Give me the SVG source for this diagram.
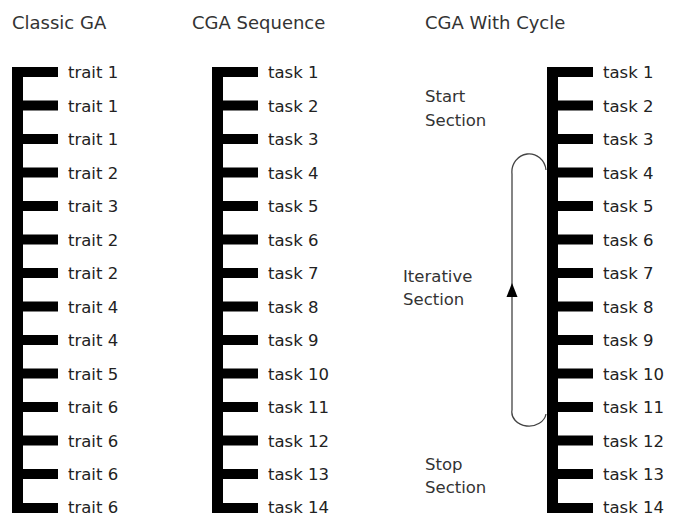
<svg xmlns="http://www.w3.org/2000/svg" width="673" height="517" viewBox="0 0 673 517">
<defs>
<style>
.bar{fill:#000}
.lbl{font-family:"DejaVu Sans",sans-serif;font-size:16.5px;fill:#222}
.ttl{font-family:"DejaVu Sans",sans-serif;font-size:18px;fill:#333}
.sec{font-family:"DejaVu Sans",sans-serif;font-size:16.5px;fill:#333}
.cyc{fill:none;stroke:#444;stroke-width:1.3}
</style>
<g id="comb">
<rect class="bar" x="0" y="0" width="11" height="446"/>
<rect class="bar" x="0" y="0" width="46" height="10"/>
<rect class="bar" x="0" y="33.5" width="46" height="10"/>
<rect class="bar" x="0" y="67" width="46" height="10"/>
<rect class="bar" x="0" y="100.5" width="46" height="10"/>
<rect class="bar" x="0" y="134" width="46" height="10"/>
<rect class="bar" x="0" y="167.5" width="46" height="10"/>
<rect class="bar" x="0" y="201" width="46" height="10"/>
<rect class="bar" x="0" y="234.5" width="46" height="10"/>
<rect class="bar" x="0" y="268" width="46" height="10"/>
<rect class="bar" x="0" y="301.5" width="46" height="10"/>
<rect class="bar" x="0" y="335" width="46" height="10"/>
<rect class="bar" x="0" y="368.5" width="46" height="10"/>
<rect class="bar" x="0" y="402" width="46" height="10"/>
<rect class="bar" x="0" y="436" width="46" height="10"/>
</g>
</defs>
<rect width="673" height="517" fill="#fff"/>
<g id="titles">
<text class="ttl" x="12" y="29">Classic GA</text>
<text class="ttl" x="192" y="29">CGA Sequence</text>
<text class="ttl" x="425" y="29">CGA With Cycle</text>
</g>
<g id="classic-ga">
<use href="#comb" x="12" y="67"/>
<g class="lbl">
<text x="68" y="78">trait 1</text>
<text x="68" y="111.5">trait 1</text>
<text x="68" y="145">trait 1</text>
<text x="68" y="178.5">trait 2</text>
<text x="68" y="212">trait 3</text>
<text x="68" y="245.5">trait 2</text>
<text x="68" y="279">trait 2</text>
<text x="68" y="312.5">trait 4</text>
<text x="68" y="346">trait 4</text>
<text x="68" y="379.5">trait 5</text>
<text x="68" y="413">trait 6</text>
<text x="68" y="446.5">trait 6</text>
<text x="68" y="480">trait 6</text>
<text x="68" y="513">trait 6</text>
</g>
</g>
<g id="cga-sequence">
<use href="#comb" x="212" y="67"/>
<g class="lbl">
<text x="268" y="78">task 1</text>
<text x="268" y="111.5">task 2</text>
<text x="268" y="145">task 3</text>
<text x="268" y="178.5">task 4</text>
<text x="268" y="212">task 5</text>
<text x="268" y="245.5">task 6</text>
<text x="268" y="279">task 7</text>
<text x="268" y="312.5">task 8</text>
<text x="268" y="346">task 9</text>
<text x="268" y="379.5">task 10</text>
<text x="268" y="413">task 11</text>
<text x="268" y="446.5">task 12</text>
<text x="268" y="480">task 13</text>
<text x="268" y="513">task 14</text>
</g>
</g>
<g id="cga-with-cycle">
<use href="#comb" x="547" y="67"/>
<g class="lbl">
<text x="603" y="78">task 1</text>
<text x="603" y="111.5">task 2</text>
<text x="603" y="145">task 3</text>
<text x="603" y="178.5">task 4</text>
<text x="603" y="212">task 5</text>
<text x="603" y="245.5">task 6</text>
<text x="603" y="279">task 7</text>
<text x="603" y="312.5">task 8</text>
<text x="603" y="346">task 9</text>
<text x="603" y="379.5">task 10</text>
<text x="603" y="413">task 11</text>
<text x="603" y="446.5">task 12</text>
<text x="603" y="480">task 13</text>
<text x="603" y="513">task 14</text>
</g>
</g>
<g id="section-labels" class="sec">
<text x="425" y="102">Start</text>
<text x="425" y="126">Section</text>
<text x="403" y="282">Iterative</text>
<text x="403" y="305">Section</text>
<text x="425" y="470">Stop</text>
<text x="425" y="493">Section</text>
</g>
<g id="connectors">
<path class="cyc" d="M 546 414 A 17 14 0 0 1 512 410 L 512 174 A 17 18 0 0 1 546 170"/>
<polygon points="512,283 506.5,297 517.5,297" fill="#000"/>
</g>
</svg>
